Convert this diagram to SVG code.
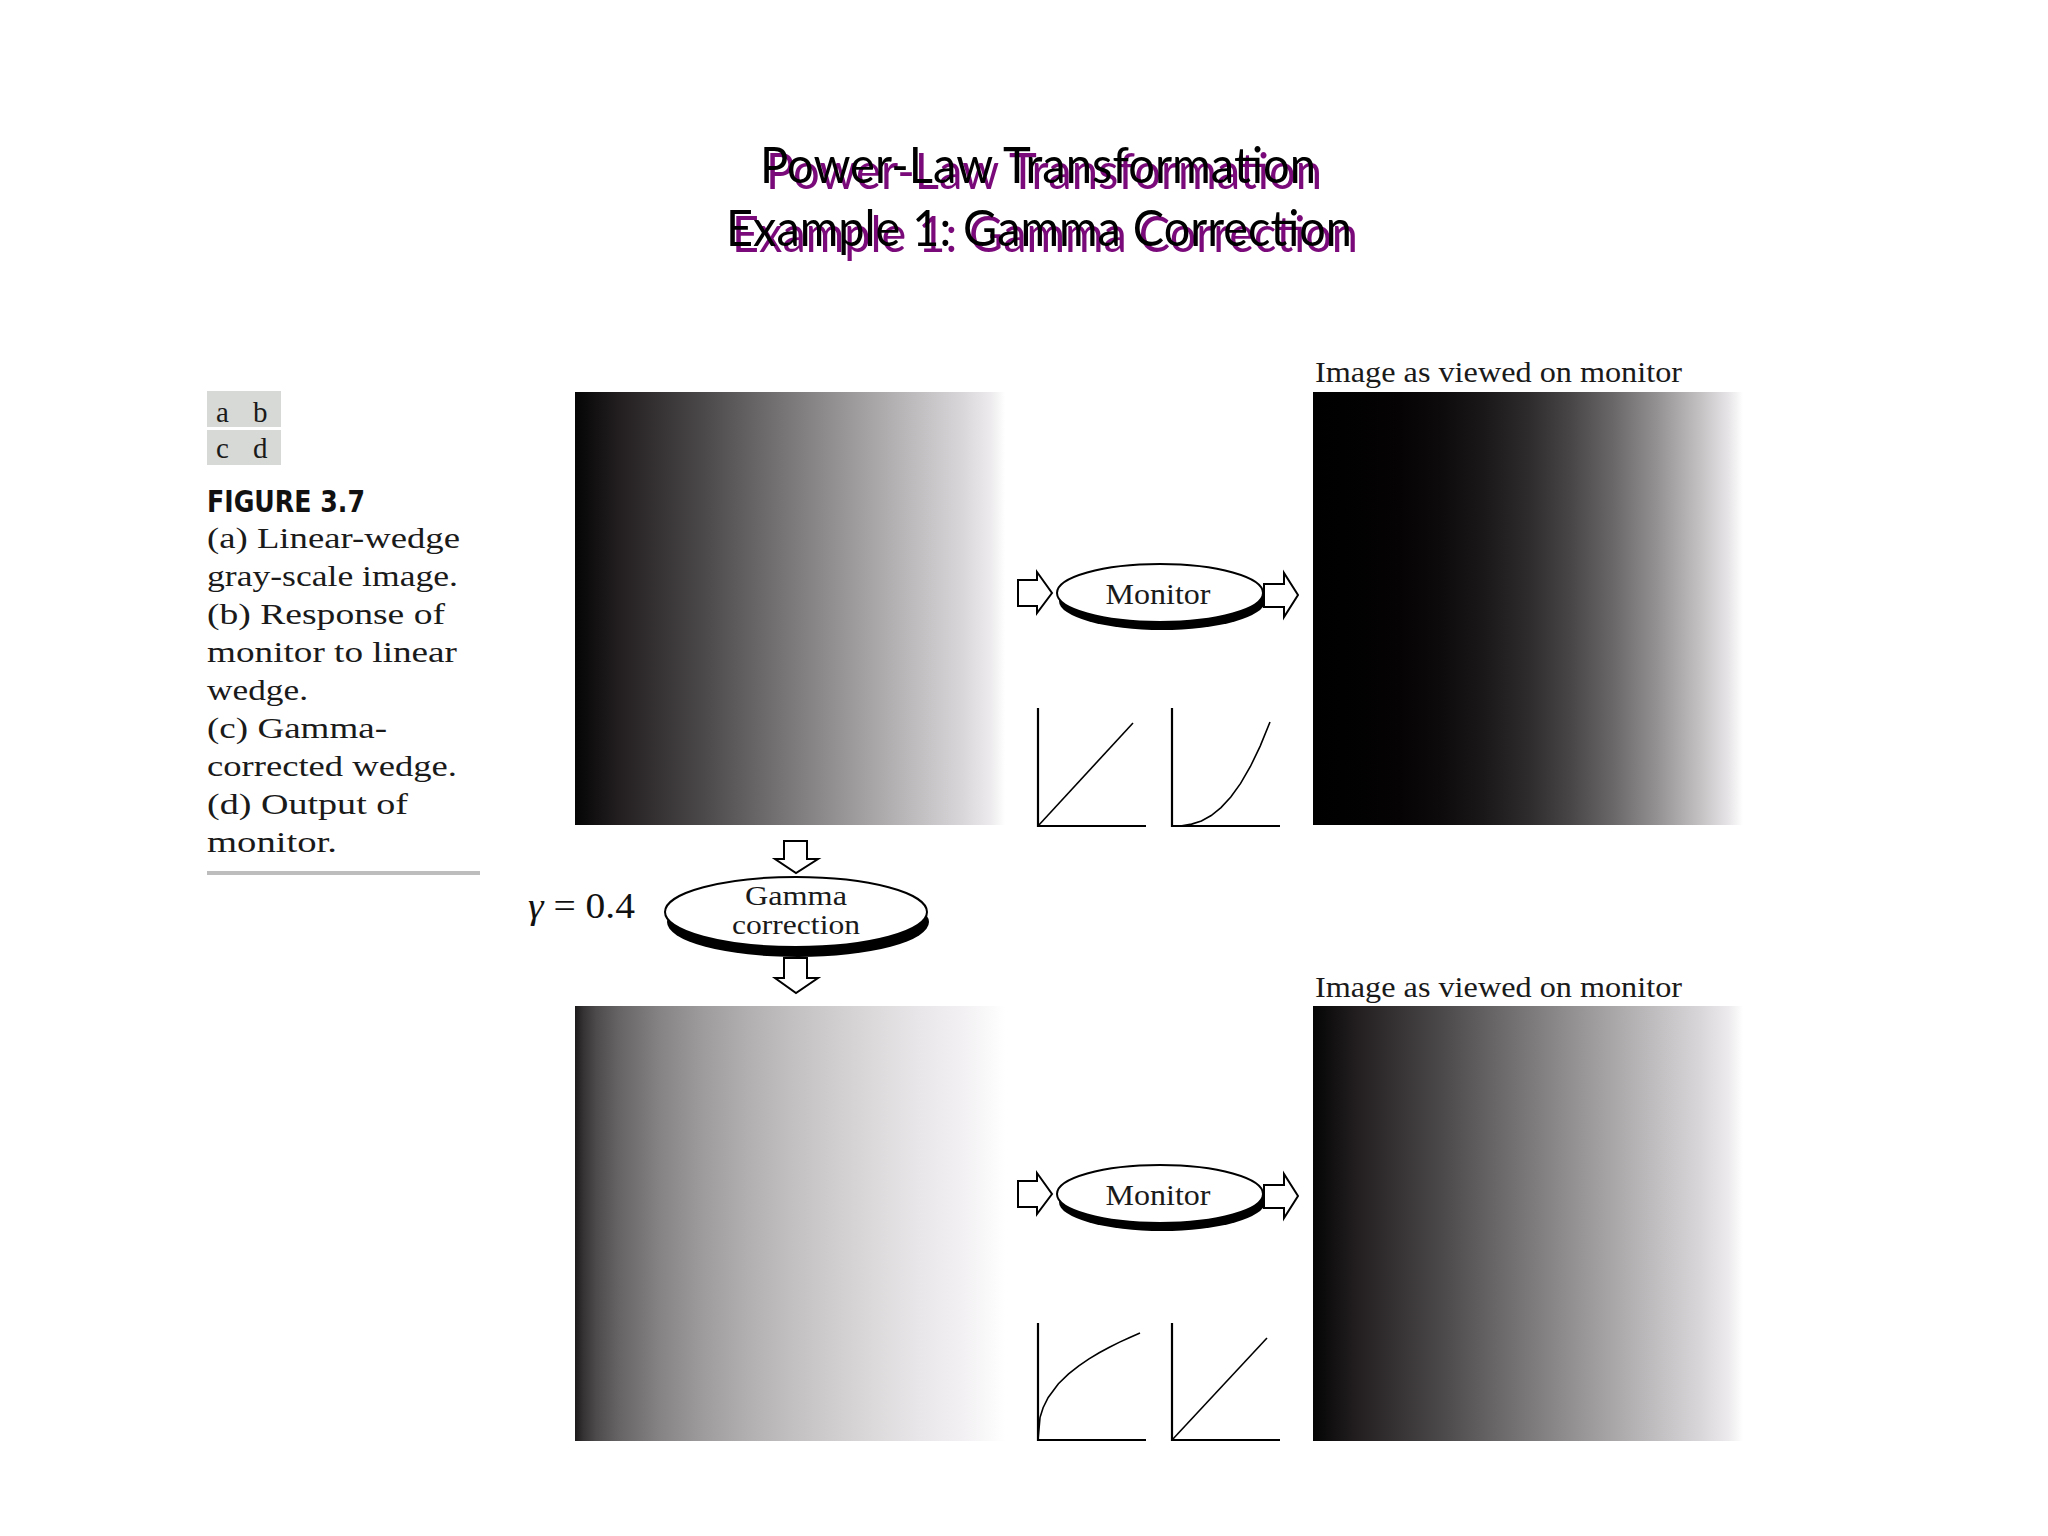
<svg xmlns="http://www.w3.org/2000/svg" width="2048" height="1536" viewBox="0 0 2048 1536">
<style>
.title{font-family:"Lato","Liberation Sans",sans-serif;font-size:50px;text-anchor:middle}
.sh{fill:#7a0a7a}
.tx{fill:#000}
.serif{font-family:"Liberation Serif","DejaVu Serif",serif;fill:#1a1a1a}
.cap{font-size:29px}
.lbl{font-size:30px}
.axis{fill:none;stroke:#000;stroke-width:2.2}
.curve{fill:none;stroke:#000;stroke-width:1.6}
.arrow{fill:#fff;stroke:#000;stroke-width:2;stroke-linejoin:miter}
.disc{fill:#fff;stroke:#000;stroke-width:2}
.discsh{fill:#000}
</style>
<defs>
<linearGradient id="gLin" x1="0" y1="0" x2="1" y2="0">
<stop offset="0" stop-color="#050505"/>
<stop offset="0.1" stop-color="#221e20"/>
<stop offset="0.3" stop-color="#4c494b"/>
<stop offset="0.5" stop-color="#7b787a"/>
<stop offset="0.7" stop-color="#aaa7a9"/>
<stop offset="0.9" stop-color="#d8d6d8"/>
<stop offset="0.965" stop-color="#eceaec"/>
<stop offset="1" stop-color="#ffffff"/>
</linearGradient>
<linearGradient id="gDark" x1="0" y1="0" x2="1" y2="0">
<stop offset="0" stop-color="#000000"/>
<stop offset="0.2" stop-color="#050304"/>
<stop offset="0.3" stop-color="#0e0b0c"/>
<stop offset="0.4" stop-color="#1b1819"/>
<stop offset="0.5" stop-color="#2e2b2c"/>
<stop offset="0.6" stop-color="#494647"/>
<stop offset="0.7" stop-color="#6b6869"/>
<stop offset="0.8" stop-color="#939192"/>
<stop offset="0.9" stop-color="#c3c1c2"/>
<stop offset="0.965" stop-color="#e6e4e6"/>
<stop offset="1" stop-color="#ffffff"/>
</linearGradient>
<linearGradient id="gBright" x1="0" y1="0" x2="1" y2="0">
<stop offset="0" stop-color="#1c1a1b"/>
<stop offset="0.02" stop-color="#353334"/>
<stop offset="0.05" stop-color="#4d4b4c"/>
<stop offset="0.1" stop-color="#656364"/>
<stop offset="0.2" stop-color="#868485"/>
<stop offset="0.3" stop-color="#9e9c9d"/>
<stop offset="0.4" stop-color="#b1afb0"/>
<stop offset="0.5" stop-color="#c1bfc0"/>
<stop offset="0.6" stop-color="#cfcdce"/>
<stop offset="0.7" stop-color="#dcdadb"/>
<stop offset="0.8" stop-color="#e8e6e8"/>
<stop offset="0.9" stop-color="#f2f0f2"/>
<stop offset="1" stop-color="#ffffff"/>
</linearGradient>
</defs>
<rect width="2048" height="1536" fill="#fff"/>

<g id="title">
<text class="title sh" x="1044" y="189" textLength="556" lengthAdjust="spacingAndGlyphs">Power-Law Transformation</text>
<text class="title tx" x="1038" y="183" textLength="556" lengthAdjust="spacingAndGlyphs">Power-Law Transformation</text>
<text class="title sh" x="1045" y="252" textLength="626" lengthAdjust="spacingAndGlyphs">Example 1: Gamma Correction</text>
<text class="title tx" x="1039" y="246" textLength="626" lengthAdjust="spacingAndGlyphs">Example 1: Gamma Correction</text>
</g>

<g id="caption">
<rect x="207" y="391" width="74" height="36" fill="#d6d9d6"/>
<rect x="207" y="430" width="74" height="35" fill="#d6d9d6"/>
<text class="serif" x="216" y="422" font-size="29" fill="#333">a</text>
<text class="serif" x="253" y="422" font-size="29" fill="#333">b</text>
<text class="serif" x="216" y="458" font-size="29" fill="#333">c</text>
<text class="serif" x="253" y="458" font-size="29" fill="#333">d</text>
<text x="207" y="512" font-family="'Liberation Sans Narrow','DejaVu Sans Condensed','Liberation Sans',sans-serif" font-weight="bold" font-size="30" fill="#111" textLength="158" lengthAdjust="spacingAndGlyphs">FIGURE 3.7</text>
<text class="serif cap" x="207" y="548" textLength="253" lengthAdjust="spacingAndGlyphs">(a) Linear-wedge</text>
<text class="serif cap" x="207" y="586" textLength="251" lengthAdjust="spacingAndGlyphs">gray-scale image.</text>
<text class="serif cap" x="207" y="624" textLength="238" lengthAdjust="spacingAndGlyphs">(b) Response of</text>
<text class="serif cap" x="207" y="662" textLength="250" lengthAdjust="spacingAndGlyphs">monitor to linear</text>
<text class="serif cap" x="207" y="700" textLength="101" lengthAdjust="spacingAndGlyphs">wedge.</text>
<text class="serif cap" x="207" y="738" textLength="180" lengthAdjust="spacingAndGlyphs">(c) Gamma-</text>
<text class="serif cap" x="207" y="776" textLength="250" lengthAdjust="spacingAndGlyphs">corrected wedge.</text>
<text class="serif cap" x="207" y="814" textLength="201" lengthAdjust="spacingAndGlyphs">(d) Output of</text>
<text class="serif cap" x="207" y="852" textLength="130" lengthAdjust="spacingAndGlyphs">monitor.</text>
<rect x="207" y="871" width="273" height="4" fill="#bdbdbd"/>
</g>

<g id="imageA">
<rect x="575" y="392" width="430" height="433" fill="url(#gLin)"/>
</g>
<g id="imageB">
<text class="serif lbl" x="1315" y="382" textLength="367" lengthAdjust="spacingAndGlyphs">Image as viewed on monitor</text>
<rect x="1313" y="392" width="430" height="433" fill="url(#gDark)"/>
</g>
<g id="imageC">
<rect x="575" y="1006" width="430" height="435" fill="url(#gBright)"/>
</g>
<g id="imageD">
<text class="serif lbl" x="1315" y="997" textLength="367" lengthAdjust="spacingAndGlyphs">Image as viewed on monitor</text>
<rect x="1313" y="1006" width="430" height="435" fill="url(#gLin)"/>
</g>

<g id="monitorTop">
<ellipse class="discsh" cx="1162" cy="601" rx="103" ry="29"/>
<ellipse class="disc" cx="1160" cy="593" rx="103" ry="29"/>
<text class="serif lbl" x="1158" y="604" text-anchor="middle" textLength="105" lengthAdjust="spacingAndGlyphs">Monitor</text>
</g>
<g id="monitorBottom">
<ellipse class="discsh" cx="1162" cy="1202" rx="103" ry="29"/>
<ellipse class="disc" cx="1160" cy="1194" rx="103" ry="29"/>
<text class="serif lbl" x="1158" y="1205" text-anchor="middle" textLength="105" lengthAdjust="spacingAndGlyphs">Monitor</text>
</g>

<g id="gammaCorrection">
<text x="528" y="918" font-family="'Liberation Serif','DejaVu Serif',serif" font-size="35" fill="#111" textLength="107" lengthAdjust="spacingAndGlyphs"><tspan font-style="italic">γ</tspan> = 0.4</text>
<ellipse class="discsh" cx="798" cy="922" rx="131" ry="35"/>
<ellipse class="disc" cx="796" cy="912" rx="131" ry="35"/>
<text class="serif" x="796" y="905" font-size="27" text-anchor="middle" textLength="102" lengthAdjust="spacingAndGlyphs">Gamma</text>
<text class="serif" x="796" y="934" font-size="27" text-anchor="middle" textLength="128" lengthAdjust="spacingAndGlyphs">correction</text>
</g>

<g id="plotTop1">
<path class="axis" d="M1038 708 V826 H1146"/>
<path class="curve" d="M1038 826 L1133 723"/>
</g>
<g id="plotTop2">
<path class="axis" d="M1172 708 V826 H1280"/>
<path class="curve" d="M1172 826 L1181.8 825.7 L1191.6 824.1 L1201.4 820.9 L1211.2 815.5 L1221 807.6 L1230.8 797 L1240.6 783.4 L1250.4 766.5 L1260.2 746.1 L1270 722"/>
</g>
<g id="plotBottom1">
<path class="axis" d="M1038 1323 V1440 H1146"/>
<path class="curve" d="M1038 1440 L1040 1417.6 L1043.1 1407.7 L1048.2 1397.4 L1058.4 1383.8 L1068.6 1373.9 L1078.8 1365.8 L1089 1358.9 L1099.2 1352.8 L1109.4 1347.2 L1119.6 1342.1 L1129.8 1337.4 L1140 1333"/>
</g>
<g id="plotBottom2">
<path class="axis" d="M1172 1323 V1440 H1280"/>
<path class="curve" d="M1172 1440 L1267 1338"/>
</g>

<g id="connectors">
<polygon class="arrow" points="1018,580 1037,580 1037,572 1052,593 1037,613 1037,606 1018,606"/>
<polygon class="arrow" points="1264,584 1284,584 1284,573 1298,595 1284,617 1284,607 1264,607"/>
<polygon class="arrow" points="1018,1181 1037,1181 1037,1173 1052,1194 1037,1214 1037,1207 1018,1207"/>
<polygon class="arrow" points="1264,1185 1284,1185 1284,1174 1298,1196 1284,1218 1284,1208 1264,1208"/>
<polygon class="arrow" points="784,841 807,841 807,859 818,859 796,873 775,859 784,859"/>
<polygon class="arrow" points="784,958 807,958 807,978 818,978 796,993 775,978 784,978"/>
</g>
</svg>
